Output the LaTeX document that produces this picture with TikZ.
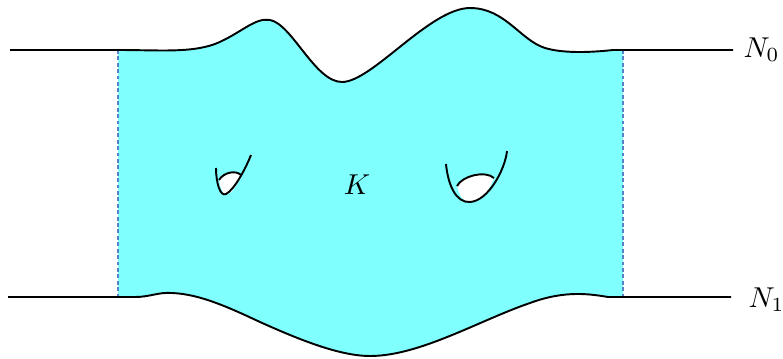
\documentclass[tikz,border=0pt]{standalone}
\begin{document}
\begin{tikzpicture}[x=0.39pt,y=-0.39pt,
  bdry/.style={line width=0.75pt,black},
  edge/.style={draw=cyan!40!blue!70,line width=0.4pt,dash pattern=on 1.5pt off 1pt},
  lbl/.style={inner sep=0pt,scale=1.12}]
\definecolor{kfill}{HTML}{80FFFF}
\useasboundingbox (0,0) rectangle (783,358);
% fill of K
\fill[kfill] (118,50) .. controls (160,50) and (190,53) .. (215,44)
  .. controls (240,34) and (255,17) .. (270,20)
  .. controls (292,24) and (315,82) .. (342,82)
  .. controls (372,82) and (430,8) .. (470,8)
  .. controls (505,8) and (520,40) .. (545,48)
  .. controls (565,54) and (595,52) .. (613,50) -- (623,50)
  -- (623,297) -- (608,297)
  .. controls (590,294) and (565,290) .. (530,303)
  .. controls (480,320) and (420,356) .. (370,356)
  .. controls (340,356) and (300,340) .. (260,322)
  .. controls (230,308) and (200,294) .. (172,293)
  .. controls (158,292) and (150,297) .. (135,297) -- (118,297) -- cycle;
% named points
\coordinate (tl) at (10,50);
\coordinate (tr) at (733,50);
\coordinate (bl) at (8,297);
\coordinate (br) at (731,297);
\coordinate (ld0) at (118,50);
\coordinate (ld1) at (118,297);
\coordinate (rd0) at (623,50);
\coordinate (rd1) at (623,297);
\node[lbl,anchor=west] (N0) at (743,50) {$N_0$};
\node[lbl,anchor=west] (N1) at (748,300) {$N_1$};
\node[lbl] (K) at (357,185) {$K$};
% dashed sides
\draw[edge] (ld0) -- (ld1);
\draw[edge] (rd0) -- (rd1);
% top boundary N0
\draw[bdry] (tl) -- (ld0) .. controls (160,50) and (190,53) .. (215,44)
  .. controls (240,34) and (255,17) .. (270,20)
  .. controls (292,24) and (315,82) .. (342,82)
  .. controls (372,82) and (430,8) .. (470,8)
  .. controls (505,8) and (520,40) .. (545,48)
  .. controls (565,54) and (595,52) .. (613,50) -- (tr);
% bottom boundary N1
\draw[bdry] (bl) -- (135,297)
  .. controls (150,297) and (158,292) .. (172,293)
  .. controls (200,294) and (230,308) .. (260,322)
  .. controls (300,340) and (340,356) .. (370,356)
  .. controls (420,356) and (480,320) .. (530,303)
  .. controls (565,290) and (590,294) .. (608,297) -- (br);
% small handle
\fill[white] (219,179) .. controls (224,172) and (236,170) .. (241,175)
  .. controls (237,186) and (231,195) .. (226,194)
  .. controls (222,194) and (220,187) .. (219,179) -- cycle;
\draw[bdry] (216,168) .. controls (216,182) and (220,197) .. (226,194)
  .. controls (234,190) and (245,170) .. (251,155);
\draw[bdry] (219,180) .. controls (224,172) and (236,170) .. (241,175);
% large handle
\fill[white] (457,186) .. controls (462,176) and (485,170) .. (494,178)
  .. controls (488,192) and (482,202) .. (470,202)
  .. controls (463,202) and (459,195) .. (457,186) -- cycle;
\draw[bdry] (446,164) .. controls (448,185) and (456,203) .. (470,202)
  .. controls (488,201) and (505,170) .. (507,151);
\draw[bdry] (457,186) .. controls (462,176) and (485,170) .. (494,178);
\end{tikzpicture}
\end{document}
